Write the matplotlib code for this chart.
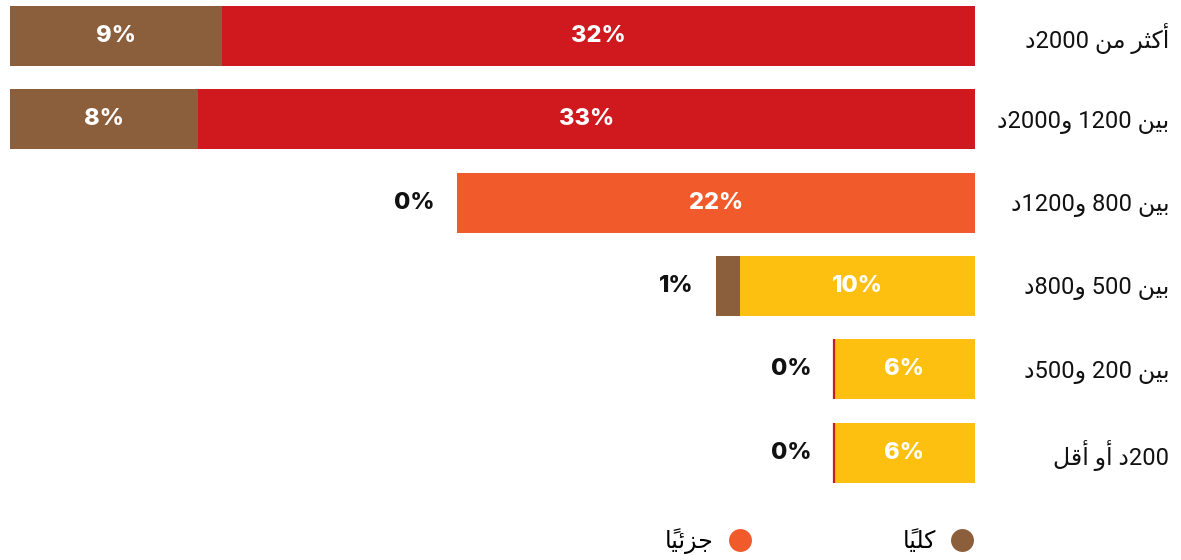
import matplotlib
matplotlib.use("Agg")
import matplotlib.pyplot as plt
from matplotlib.lines import Line2D

# income brackets, top row first
categories = ["أكثر من 2000د", "بين 1200 و2000د", "بين 800 و1200د",
              "بين 500 و800د", "بين 200 و500د", "200د أو أقل"]
partial = [32, 33, 22, 10, 6, 6]   # جزئياً
total = [9, 8, 0, 1, 0, 0]         # كلياً
legend_labels = ["جزئياً", "كلياً"]

BROWN = "#8b5e3c"
RED = "#d0191f"
ORANGE = "#f15a2b"
YELLOW = "#fdc010"
partial_colors = [RED, RED, ORANGE, YELLOW, YELLOW, YELLOW]
total_edges = ["none", "none", "none", "none", RED, RED]

# matplotlib has no arabic shaping, so pick presentation forms by hand
# (isolated, final, initial, medial)
FORMS = {
    "ا": ("\uFE8D", "\uFE8E", None, None),
    "أ": ("\uFE83", "\uFE84", None, None),
    "ب": ("\uFE8F", "\uFE90", "\uFE91", "\uFE92"),
    "ث": ("\uFE99", "\uFE9A", "\uFE9B", "\uFE9C"),
    "ج": ("\uFE9D", "\uFE9E", "\uFE9F", "\uFEA0"),
    "د": ("\uFEA9", "\uFEAA", None, None),
    "ر": ("\uFEAD", "\uFEAE", None, None),
    "ز": ("\uFEAF", "\uFEB0", None, None),
    "ق": ("\uFED5", "\uFED6", "\uFED7", "\uFED8"),
    "ك": ("\uFED9", "\uFEDA", "\uFEDB", "\uFEDC"),
    "ل": ("\uFEDD", "\uFEDE", "\uFEDF", "\uFEE0"),
    "م": ("\uFEE1", "\uFEE2", "\uFEE3", "\uFEE4"),
    "ن": ("\uFEE5", "\uFEE6", "\uFEE7", "\uFEE8"),
    "و": ("\uFEED", "\uFEEE", None, None),
    "ي": ("\uFEF1", "\uFEF2", "\uFEF3", "\uFEF4"),
    "ئ": ("\uFE89", "\uFE8A", "\uFE8B", "\uFE8C"),
}
MARKS = {"\u064B"}


def rtl(s):
    letters = [i for i, c in enumerate(s) if c not in MARKS]
    shaped = list(s)
    for k, i in enumerate(letters):
        c = s[i]
        if c not in FORMS:
            continue
        iso, fin, ini, med = FORMS[c]
        prev = s[letters[k - 1]] if k > 0 else ""
        nxt = s[letters[k + 1]] if k + 1 < len(letters) else ""
        join_prev = prev in FORMS and FORMS[prev][2] is not None
        join_next = ini is not None and nxt in FORMS
        if join_prev and join_next:
            shaped[i] = med
        elif join_prev:
            shaped[i] = fin
        elif join_next:
            shaped[i] = ini
        else:
            shaped[i] = iso
    # clusters: digit runs stay left-to-right, marks stay after their base
    tokens = []
    for c in shaped:
        if c.isdigit() and tokens and tokens[-1][-1].isdigit():
            tokens[-1] += c
        elif c in MARKS and tokens:
            tokens[-1] += c
        else:
            tokens.append(c)
    return "".join(reversed(tokens))


fig = plt.figure(figsize=(11.81, 5.6), dpi=100)
ax = fig.add_axes([10 / 1181, 1 - 490 / 560, 965 / 1181, 490 / 560])

rows = list(range(len(categories)))
ax.barh(rows, partial, left=0, height=0.72, color=partial_colors, linewidth=0)
ax.barh(rows, total, left=partial, height=0.72, color=BROWN,
        edgecolor=total_edges, linewidth=1.6)

ax.set_xlim(41, 0)
ax.set_ylim(5.45, -0.432)

pct_font = dict(family=["Inter", "DejaVu Sans"], fontsize=17, fontweight="heavy")
for i in rows:
    ax.text(partial[i] / 2, i, f"{partial[i]}%", ha="center", va="center",
            color="white", **pct_font)
    if total[i] >= 5:
        ax.text(partial[i] + total[i] / 2, i, f"{total[i]}%", ha="center",
                va="center", color="white", **pct_font)
    else:
        ax.text(partial[i] + total[i] + 0.95, i, f"{total[i]}%", ha="right",
                va="center", color="#111111", **pct_font)

ax.yaxis.tick_right()
ax.set_yticks(rows)
ax.set_yticklabels([rtl(c) for c in categories], ha="right",
                   family=["Roboto", "DejaVu Sans"], fontsize=17, color="#111111")
ax.tick_params(axis="y", length=0, pad=140)
ax.set_xticks([])
for sp in ax.spines.values():
    sp.set_visible(False)

handles = [Line2D([], [], marker="o", linestyle="none", markersize=16.5,
                  markerfacecolor=c, markeredgewidth=0) for c in (ORANGE, BROWN)]
fig.legend(handles, [rtl(t) for t in legend_labels], loc="center",
           bbox_to_anchor=(819.5 / 1181, 1 - 541 / 560), ncol=2, frameon=False,
           markerfirst=False, handlelength=1.0, handletextpad=0.6,
           columnspacing=6.4, prop=dict(family=["Roboto", "DejaVu Sans"], size=17))

fig.savefig("out.png", dpi=100)
